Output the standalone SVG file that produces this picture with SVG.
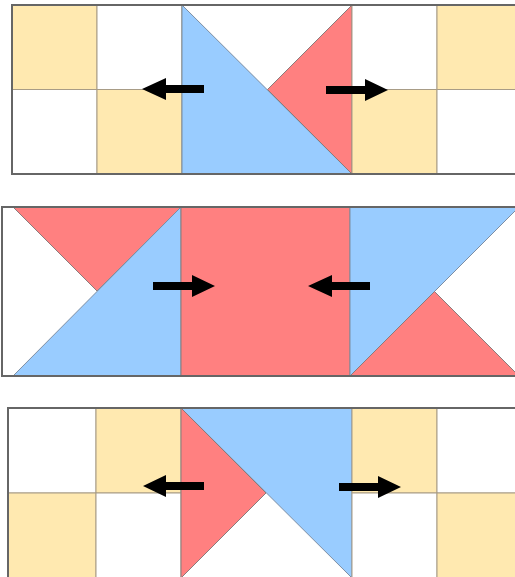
<svg xmlns="http://www.w3.org/2000/svg" width="515" height="577" viewBox="0 0 515 577">
<style>
.y{fill:#FFE9B0;stroke:#a89c86;stroke-width:1}
.w{fill:#FFFFFF;stroke:#a89c86;stroke-width:1}
.b{fill:#99CCFF;stroke:#7d8ea3;stroke-width:1}
.r{fill:#FF8080;stroke:#8a7c7c;stroke-width:1}
.frame{fill:none;stroke:#666666;stroke-width:2}
.arrow{fill:#000;stroke:none}
</style>
<rect width="515" height="577" fill="#fff"/>

<g id="panel1">
<rect class="y" x="12" y="5" width="85" height="84.5"/>
<rect class="w" x="97" y="5" width="85" height="84.5"/>
<rect class="w" x="12" y="89.5" width="85" height="84.5"/>
<rect class="y" x="97" y="89.5" width="85" height="84.5"/>
<rect class="w" x="182" y="5" width="170" height="169" stroke="none"/>
<polygon class="b" points="182,5 352,174 182,174"/>
<polygon class="r" points="352,5 352,174 267.5,89.5"/>
<rect class="w" x="352" y="5" width="85" height="84.5"/>
<rect class="y" x="437" y="5" width="85" height="84.5"/>
<rect class="y" x="352" y="89.5" width="85" height="84.5"/>
<rect class="w" x="437" y="89.5" width="85" height="84.5"/>
<rect class="frame" x="12" y="5" width="520" height="169"/>
</g>

<g id="panel2">
<rect x="2" y="207" width="180" height="169" fill="#fff"/>
<polygon class="r" points="13,207 181,207 97,291"/>
<polygon class="b" points="181,207 181,376 13,376"/>
<rect class="r" x="181" y="207" width="169" height="169"/>
<polygon class="b" points="350,207 519,207 350,376"/>
<polygon class="r" points="350,376 434.5,291.5 519,376"/>
<rect class="frame" x="2" y="207" width="530" height="169"/>
</g>

<g id="panel3">
<rect class="w" x="8" y="408" width="88" height="85"/>
<rect class="y" x="96" y="408" width="85" height="85"/>
<rect class="y" x="8" y="493" width="88" height="85"/>
<rect class="w" x="96" y="493" width="85" height="85"/>
<rect x="181" y="408" width="171" height="170" fill="#fff"/>
<polygon class="b" points="181,408 352,408 352,578"/>
<polygon class="r" points="181,408 266,493 181,578"/>
<rect class="y" x="352" y="408" width="85" height="85"/>
<rect class="w" x="437" y="408" width="85" height="85"/>
<rect class="w" x="352" y="493" width="85" height="85"/>
<rect class="y" x="437" y="493" width="85" height="85"/>
<rect class="frame" x="8" y="408" width="520" height="180"/>
</g>

<g id="connectors">
<polygon class="arrow" points="204,85 166,85 166,78 142,89 166,100 166,93 204,93"/>
<polygon class="arrow" points="326,86 365,86 365,79 388,90 365,101 365,94 326,94"/>
<polygon class="arrow" points="153,282 192,282 192,275 215,286 192,297 192,290 153,290"/>
<polygon class="arrow" points="370,282 332,282 332,275 308,286 332,297 332,290 370,290"/>
<polygon class="arrow" points="204,482 166,482 166,475 143,486 166,497 166,490 204,490"/>
<polygon class="arrow" points="339,483 378,483 378,476 401,487 378,498 378,491 339,491"/>
</g>
</svg>
